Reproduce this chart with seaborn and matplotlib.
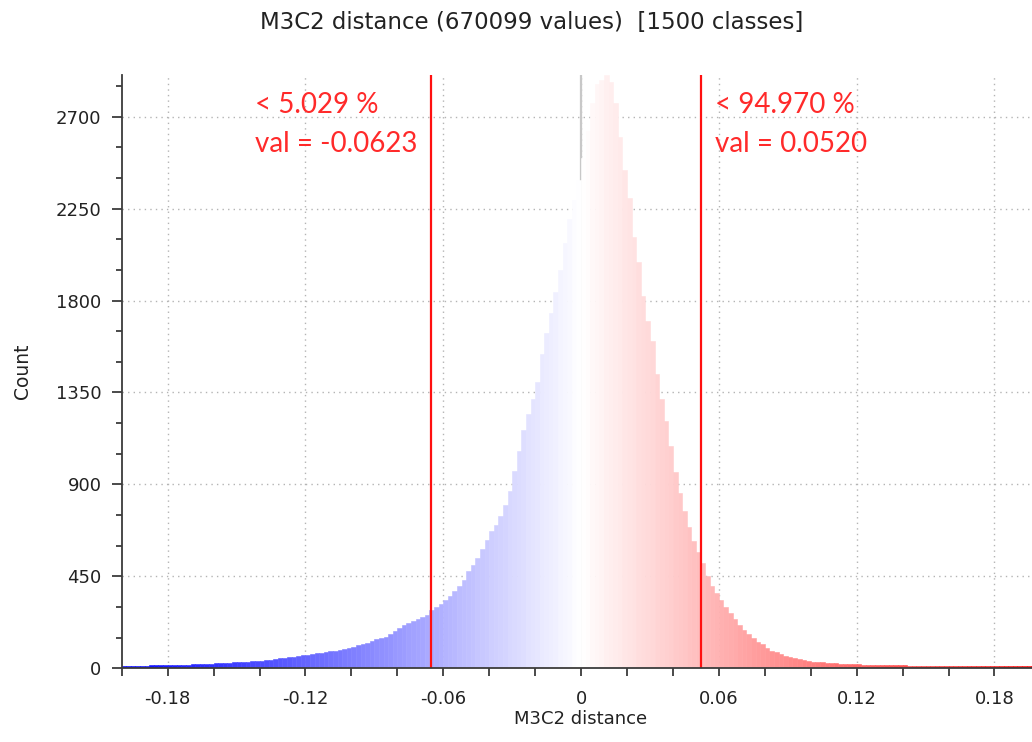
import numpy as np
import pandas as pd
import matplotlib
matplotlib.use("Agg")
import matplotlib.pyplot as plt
from matplotlib.ticker import MultipleLocator
import seaborn as sns

# ---------------- data ----------------
title = "M3C2 distance (670099 values)  [1500 classes]"
x_label = "M3C2 distance"
y_label = "Count"

bin_width = 0.002
range_start = -0.2

# bins from -0.2 to 0.0 (100 bins)
counts_neg = [
    12, 12, 12, 12, 13, 13, 14, 14, 15, 15,
    15, 16, 17, 17, 18, 19, 20, 20, 22, 23,
    24, 25, 26, 27, 29, 30, 31, 33, 35, 37,
    38, 41, 43, 45, 48, 51, 54, 57, 61, 64,
    67, 70, 74, 77, 81, 84, 87, 91, 96, 101,
    106, 112, 118, 126, 134, 141, 146, 155, 168, 184,
    197, 210, 222, 232, 240, 250, 262, 285, 300, 316,
    332, 352, 378, 405, 432, 475, 505, 540, 585, 630,
    670, 700, 745, 800, 870, 965, 1065, 1166, 1245, 1320,
    1400, 1540, 1640, 1740, 1840, 1950, 2080, 2200, 2290, 2390,
]
# bins from 0.0 to 0.2 (100 bins)
counts_pos = [
    2500, 2630, 2766, 2860, 2880, 2905, 2870, 2766, 2602, 2439,
    2300, 2113, 1990, 1820, 1700, 1600, 1440, 1320, 1210, 1090,
    960, 860, 770, 690, 625, 570, 515, 452, 405, 367,
    335, 300, 269, 240, 212, 187, 168, 148, 130, 117,
    100, 87, 78, 70, 62, 55, 49, 45, 40, 36,
    33, 31, 29, 27, 26, 25, 23, 22, 21, 20,
    19, 18, 17, 17, 16, 16, 15, 15, 14, 14,
    14, 13, 13, 13, 12, 12, 12, 12, 12, 11,
    11, 11, 11, 11, 11, 11, 10, 10, 10, 10,
    10, 10, 10, 10, 10, 10, 10, 10, 10, 10,
]

x_ticks = [-0.18, -0.12, -0.06, 0.0, 0.06, 0.12, 0.18]
x_tick_labels = ["-0.18", "-0.12", "-0.06", "0", "0.06", "0.12", "0.18"]
y_ticks = [0, 450, 900, 1350, 1800, 2250, 2700]
y_tick_labels = ["0", "450", "900", "1350", "1800", "2250", "2700"]

low_pct_text = "< 5.029 %"
low_val_text = "val = -0.0623"
high_pct_text = "< 94.970 %"
high_val_text = "val = 0.0520"
low_line_x = -0.0653
high_line_x = 0.0523

# ---------------- figure ----------------
assert len(counts_neg) == 100 and len(counts_pos) == 100
counts = counts_neg + counts_pos
n_bins = len(counts)
lo = range_start
hi = range_start + bin_width * n_bins
centers = lo + bin_width * (np.arange(n_bins) + 0.5)
df = pd.DataFrame({"distance": centers, "count": counts})

sns.set_style("ticks")
plt.rcParams["font.family"] = ["DejaVu Sans"]

W, H = 1032, 742
fig = plt.figure(figsize=(W / 100, H / 100), dpi=100)
ax_left, ax_bottom_px, ax_top_px = 121.7, 668.3, 75.0
ax_w_px = 918.7
ax = fig.add_axes([ax_left / W, (H - ax_bottom_px) / H, ax_w_px / W,
                   (ax_bottom_px - ax_top_px) / H])

sns.histplot(data=df, x="distance", weights="count", bins=n_bins,
             binrange=(lo, hi), ax=ax, element="bars", linewidth=0,
             alpha=1, zorder=2)

cmap = plt.get_cmap("bwr")
norm = plt.Normalize(-0.2, 0.2)
for p in ax.patches:
    cx = p.get_x() + p.get_width() / 2
    c = cmap(norm(cx))
    p.set_facecolor(c)
    p.set_edgecolor(c)
    p.set_linewidth(0.4)

ax.axvline(0, color="#c8c8c8", lw=1.6, zorder=1)
ax.axvline(low_line_x, color="#ff1010", lw=1.6, zorder=3)
ax.axvline(high_line_x, color="#ff1010", lw=1.6, zorder=3)

ax.set_xlim(-0.2, 0.2)
ax.set_ylim(0, 2904)
ax.set_xticks(x_ticks, x_tick_labels)
ax.set_yticks(y_ticks, y_tick_labels)
ax.xaxis.set_minor_locator(MultipleLocator(0.02))
ax.yaxis.set_minor_locator(MultipleLocator(150))

ax.set_axisbelow(True)
ax.grid(True, which="major", linestyle=(0, (1, 3)), color="#b4b4b4", lw=1.0)

for s in ["top", "right"]:
    ax.spines[s].set_visible(False)
for s in ["left", "bottom"]:
    ax.spines[s].set_color("#3c3c3c")
    ax.spines[s].set_linewidth(1.3)
    ax.spines[s].set_zorder(4)

ax.tick_params(axis="x", which="major", length=5.5, width=1.3, color="#3c3c3c",
               labelsize=13, pad=10, labelcolor="#222222")
ax.tick_params(axis="x", which="minor", length=5.5, width=1.3, color="#3c3c3c")
ax.tick_params(axis="y", which="major", length=7.5, width=1.3, color="#3c3c3c",
               labelsize=13, pad=7, labelcolor="#222222")
ax.tick_params(axis="y", which="minor", length=4.5, width=1.3, color="#3c3c3c")

ax.set_xlabel(x_label, fontsize=13, color="#222222")
ax.xaxis.set_label_coords(0.4996, -0.0705)
ax.xaxis.label.set_va("top")
ax.set_ylabel(y_label, fontsize=13.5, color="#222222")
ax.yaxis.set_label_coords(-0.098, 0.5)

fig.text(532 / W, 1 - 22 / H, title, ha="center", va="center", fontsize=16.5,
         color="#222222")

red_kw = dict(color="#ff2a2a", fontsize=20, family=["Lato", "DejaVu Sans"],
              va="baseline", ha="left", zorder=5)
ax.text(-0.1421, 2720, low_pct_text, **red_kw)
ax.text(-0.1421, 2529, low_val_text, **red_kw)
ax.text(0.0585, 2720, high_pct_text, **red_kw)
ax.text(0.0585, 2529, high_val_text, **red_kw)

fig.savefig("out.png", dpi=100)
